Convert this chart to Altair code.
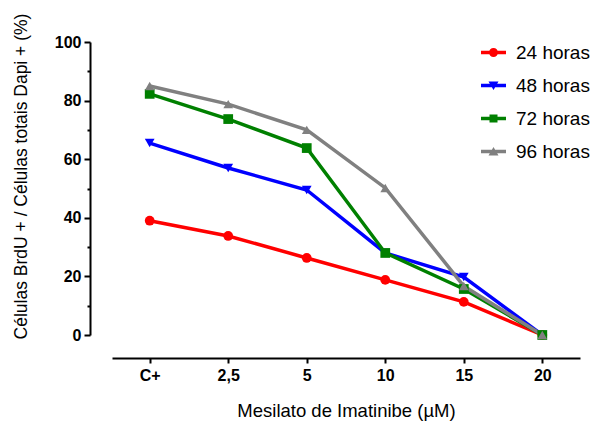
import altair as alt
import pandas as pd

doses = ["C+", "2,5", "5", "10", "15", "20"]
series = ["24 horas", "48 horas", "72 horas", "96 horas"]
h24 = [39.0, 33.8, 26.3, 18.8, 11.3, 0.0]
h48 = [65.5, 57.0, 49.5, 28.0, 19.8, 0.0]
h72 = [82.3, 73.7, 63.8, 28.0, 15.7, 0.0]
h96 = [85.0, 78.8, 70.0, 50.2, 16.7, 0.0]
colors = ["#FF0000", "#0000FF", "#008000", "#808080"]
shapes = ["circle", "triangle-down", "square", "triangle-up"]

bar = "M-2.5,-0.35L2.5,-0.35L2.5,0.35L-2.5,0.35Z"
legend_paths = [
    bar + "M0,-0.9A0.9,0.9 0 1,1 0,0.9A0.9,0.9 0 1,1 0,-0.9Z",
    bar + "M-1,-0.8L1,-0.8L0,0.9Z",
    bar + "M-0.8,-0.8L0.8,-0.8L0.8,0.8L-0.8,0.8Z",
    bar + "M0,-0.9L1,0.8L-1,0.8Z",
]

rows = []
for name, vals in zip(series, [h24, h48, h72, h96]):
    for d, v in zip(doses, vals):
        rows.append({"dose": d, "value": v, "series": name})
df = pd.DataFrame(rows)

FONT = "Liberation Sans"

x = alt.X(
    "dose:N", sort=doses, title="Mesilato de Imatinibe (µM)",
    scale=alt.Scale(type="point", padding=0.48),
    axis=alt.Axis(labelAngle=0, offset=23, labelFontWeight="bold", labelFontSize=16,
                  labelPadding=4, tickSize=5, titleFontSize=18.5, titleFontWeight="normal",
                  titlePadding=18),
)
y = alt.Y(
    "value:Q", title="Células BrdU + / Células totais Dapi + (%)",
    scale=alt.Scale(domain=[0, 100], nice=False),
    axis=alt.Axis(values=[0, 10, 20, 30, 40, 50, 60, 70, 80, 90, 100], offset=22,
                  labelExpr="datum.value % 20 === 0 ? datum.label : ''",
                  tickSize={"expr": "datum.value % 20 === 0 ? 6 : 3"},
                  labelFontWeight="bold", labelFontSize=16, labelPadding=3,
                  titleFontSize=17.5, titleFontWeight="normal", titlePadding=24,
                  titleY=134, grid=False),
)

base = alt.Chart(df)
lines = base.mark_line(strokeWidth=3.5).encode(
    x=x, y=y,
    color=alt.Color("series:N", scale=alt.Scale(domain=series, range=colors), legend=None),
    detail="series:N",
)
points = base.mark_point(filled=True, size=95, opacity=1).encode(
    x=x, y=y,
    color=alt.Color("series:N", scale=alt.Scale(domain=series, range=colors), legend=None),
    shape=alt.Shape("series:N", scale=alt.Scale(domain=series, range=shapes), legend=None),
)
leg = alt.Legend(title=None, orient="none", legendX=372, legendY=1,
                 symbolSize=100, labelFontSize=19, labelOffset=13,
                 rowPadding=13, labelFont=FONT)
legend_layer = base.transform_filter("false").mark_point(filled=True, opacity=1).encode(
    x=x, y=y,
    color=alt.Color("series:N", scale=alt.Scale(domain=series, range=colors), legend=leg),
    shape=alt.Shape("series:N", scale=alt.Scale(domain=series, range=legend_paths), legend=leg),
)

chart = (
    alt.layer(lines, points, legend_layer)
    .resolve_scale(shape="independent", color="independent")
    .properties(width=468, height=293, autosize=alt.AutoSizeParams(type="none"),
                padding={"left": 112, "top": 42, "right": 14, "bottom": 92})
    .configure_view(stroke=None)
    .configure_axis(domainColor="black", domainWidth=2, tickColor="black", tickWidth=2,
                    labelColor="black", titleColor="black", labelFont=FONT, titleFont=FONT)
    .configure_legend(labelColor="black")
)

chart.save("out.html", embed_options={"renderer": "svg", "actions": False})
